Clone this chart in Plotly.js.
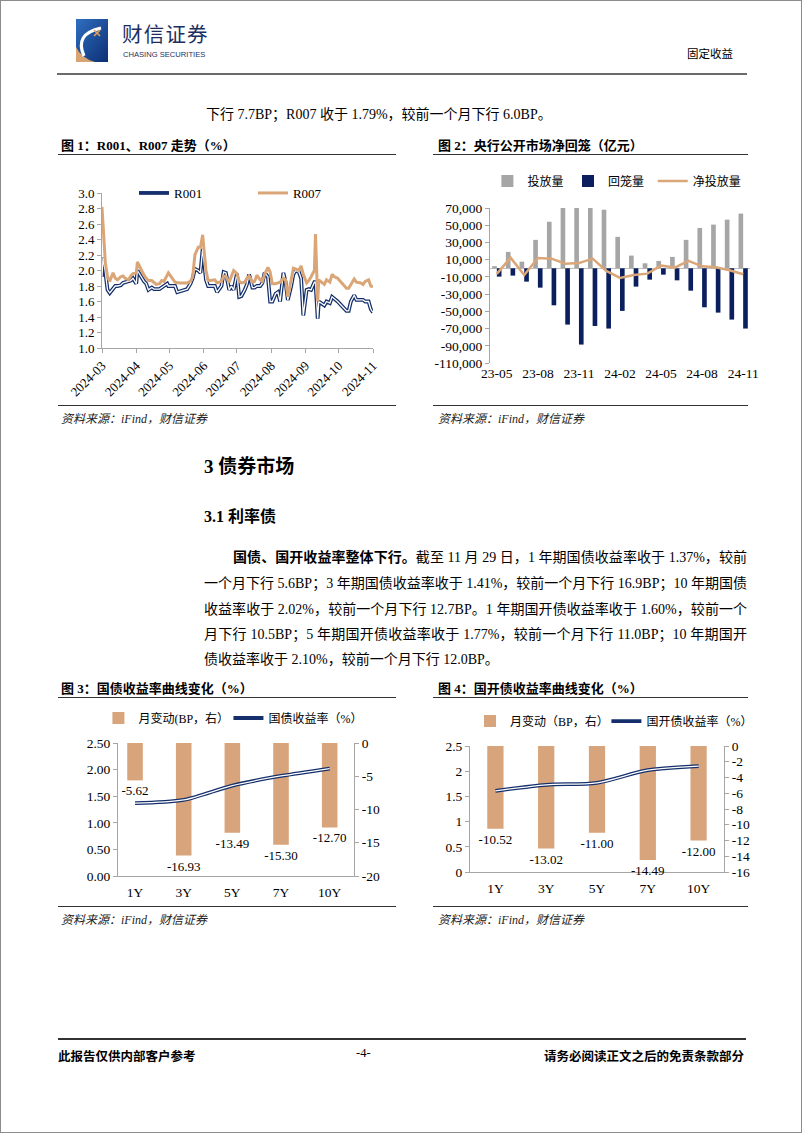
<!DOCTYPE html>
<html><head><meta charset="utf-8">
<script src="https://cdn.plot.ly/plotly-3.0.1.min.js"></script>
<style>
html,body{margin:0;padding:0;background:#fff;}
#page{position:relative;width:802px;height:1133px;box-sizing:border-box;border:1px solid #8c8c8c;overflow:hidden;font-family:"Liberation Serif","Noto Sans CJK SC",serif;color:#000;}
.abs{position:absolute;white-space:nowrap;}
.rule{position:absolute;height:0;border-top:1.5px solid #333;}
.ftitle{position:absolute;font-size:13px;font-weight:bold;white-space:nowrap;}
.src{position:absolute;font-size:12px;font-style:italic;white-space:nowrap;color:#222;}
.chart{position:absolute;}
.pl{position:absolute;left:203px;width:543px;font-size:14px;line-height:18px;text-align:justify;text-align-last:justify;white-space:nowrap;}
</style></head>
<body>
<div id="page">
  <svg class="abs" style="left:75px;top:18px" width="32" height="43" viewBox="0 0 32 43">
    <defs><linearGradient id="lg" x1="0" y1="0" x2="1" y2="1"><stop offset="0" stop-color="#2f6fc0"/><stop offset="1" stop-color="#0c2f74"/></linearGradient></defs>
    <rect x="0" y="0" width="32" height="43" fill="url(#lg)"/>
    <path d="M0 28 L0 43 L19 43 Q5 39 0 28 Z" fill="#d8a572"/>
    <path d="M8 37 Q-2 15 25 9" stroke="#fff" stroke-width="3.2" fill="none"/>
    <path d="M18 11 L24 17 M24 11 L18 17" stroke="#e2a15a" stroke-width="1.6"/>
  </svg>
  <div class="abs" style="left:121px;top:21px;font-family:'Noto Sans CJK SC';font-size:20.5px;line-height:22px;letter-spacing:1.2px;color:#1d2f5e;">财信证券</div>
  <div class="abs" style="left:122px;top:50px;font-family:'Liberation Sans';font-size:7.6px;line-height:8px;color:#1d2f5e;">CHASING SECURITIES</div>
  <div class="abs" style="left:686px;top:44px;font-family:'Noto Sans CJK SC';font-size:11.5px;">固定收益</div>
  <div class="rule" style="left:56px;top:72px;width:690px;border-top:2px solid #6a6a6a;"></div>

  <div class="abs" style="left:205px;top:102px;font-size:14px;">下行 7.7BP；R007 收于 1.79%，较前一个月下行 6.0BP。</div>

  <div class="ftitle" style="left:60px;top:134px;">图 1：R001、R007 走势（%）</div>
  <div class="rule" style="left:57px;top:153px;width:338px;"></div>
  <div class="ftitle" style="left:437px;top:134px;">图 2：央行公开市场净回笼（亿元）</div>
  <div class="rule" style="left:432px;top:153px;width:315px;"></div>

  <div id="c1" class="chart" style="left:60px;top:160px;width:340px;height:240px;"></div>
  <div id="c2" class="chart" style="left:420px;top:160px;width:340px;height:235px;"></div>

  <div class="rule" style="left:57px;top:404px;width:338px;border-top:1px solid #333;"></div>
  <div class="src" style="left:60px;top:408px;">资料来源：iFind，财信证券</div>
  <div class="rule" style="left:432px;top:404px;width:315px;border-top:1px solid #333;"></div>
  <div class="src" style="left:437px;top:408px;">资料来源：iFind，财信证券</div>

  <div class="abs" style="left:203px;top:450px;font-size:19px;font-weight:bold;">3 债券市场</div>
  <div class="abs" style="left:203px;top:502px;font-size:16px;font-weight:bold;">3.1 利率债</div>

  <div class="pl" style="top:548px;left:232px;width:514px;"><b>国债、国开收益率整体下行。</b>截至 11 月 29 日，1 年期国债收益率收于 1.37%，较前</div>
  <div class="pl" style="top:574px;">一个月下行 5.6BP；3 年期国债收益率收于 1.41%，较前一个月下行 16.9BP；10 年期国债</div>
  <div class="pl" style="top:600px;">收益率收于 2.02%，较前一个月下行 12.7BP。1 年期国开债收益率收于 1.60%，较前一个</div>
  <div class="pl" style="top:625px;">月下行 10.5BP；5 年期国开债收益率收于 1.77%，较前一个月下行 11.0BP；10 年期国开</div>
  <div class="pl" style="top:650px;text-align:left;text-align-last:left;">债收益率收于 2.10%，较前一个月下行 12.0BP。</div>

  <div class="ftitle" style="left:60px;top:677px;">图 3：国债收益率曲线变化（%）</div>
  <div class="rule" style="left:57px;top:696px;width:338px;"></div>
  <div class="ftitle" style="left:437px;top:677px;">图 4：国开债收益率曲线变化（%）</div>
  <div class="rule" style="left:432px;top:696px;width:315px;"></div>

  <div id="c3" class="chart" style="left:60px;top:700px;width:340px;height:200px;"></div>
  <div id="c4" class="chart" style="left:420px;top:700px;width:340px;height:200px;"></div>

  <div class="rule" style="left:57px;top:905px;width:338px;border-top:1px solid #333;"></div>
  <div class="src" style="left:60px;top:909px;">资料来源：iFind，财信证券</div>
  <div class="rule" style="left:432px;top:905px;width:315px;border-top:1px solid #333;"></div>
  <div class="src" style="left:437px;top:909px;">资料来源：iFind，财信证券</div>

  <div class="rule" style="left:57px;top:1037px;width:688px;border-top:2px solid #333;"></div>
  <div class="abs" style="left:57px;top:1045px;font-size:12.5px;font-weight:bold;">此报告仅供内部客户参考</div>
  <div class="abs" style="left:355px;top:1045px;font-size:12.5px;">-4-</div>
  <div class="abs" style="right:57px;top:1045px;font-size:12.5px;font-weight:bold;">请务必阅读正文之后的免责条款部分</div>
</div>

<script>
// ---------- Figure 1: R001 / R007 (%) ----------
const r1Dates = ['2024-03-01','2024-03-02','2024-03-04','2024-03-06','2024-03-08','2024-03-11','2024-03-13','2024-03-15','2024-03-18','2024-03-20','2024-03-22','2024-03-25','2024-03-27','2024-03-29',
 '2024-04-01','2024-04-02','2024-04-05','2024-04-08','2024-04-10','2024-04-12','2024-04-15','2024-04-17','2024-04-19','2024-04-22','2024-04-24','2024-04-26','2024-04-29','2024-04-30',
 '2024-05-06','2024-05-08','2024-05-10','2024-05-13','2024-05-15','2024-05-17','2024-05-20','2024-05-22','2024-05-24','2024-05-27','2024-05-29','2024-05-31',
 '2024-06-03','2024-06-05','2024-06-07','2024-06-11','2024-06-13','2024-06-17','2024-06-19','2024-06-21','2024-06-24','2024-06-26','2024-06-28',
 '2024-07-01','2024-07-03','2024-07-05','2024-07-08','2024-07-10','2024-07-12','2024-07-15','2024-07-17','2024-07-19','2024-07-22','2024-07-24','2024-07-26','2024-07-29','2024-07-31',
 '2024-08-02','2024-08-05','2024-08-07','2024-08-09','2024-08-12','2024-08-14','2024-08-16','2024-08-19','2024-08-21','2024-08-23','2024-08-26','2024-08-28','2024-08-30',
 '2024-09-02','2024-09-04','2024-09-06','2024-09-09','2024-09-10','2024-09-12','2024-09-13','2024-09-18','2024-09-20','2024-09-23','2024-09-25','2024-09-27','2024-09-30',
 '2024-10-08','2024-10-10','2024-10-12','2024-10-15','2024-10-17','2024-10-21','2024-10-23','2024-10-25','2024-10-28','2024-10-30','2024-11-01'];
const r001 = [1.92,2.17,1.98,1.75,1.71,1.76,1.80,1.80,1.81,1.84,1.85,1.86,1.87,1.90,
 1.83,2.00,1.92,1.86,1.83,1.75,1.78,1.76,1.76,1.76,1.78,1.80,1.83,1.80,
 1.80,1.72,1.73,1.74,1.76,1.76,1.83,1.90,2.02,2.00,1.97,2.28,
 1.88,1.80,1.80,1.80,1.72,1.80,1.98,1.97,1.75,1.80,1.75,
 1.96,1.66,1.67,1.75,1.82,1.95,1.78,1.78,1.80,1.80,1.84,1.97,1.92,1.60,
 1.60,1.70,1.72,1.60,1.97,1.85,1.62,1.80,1.95,2.00,1.98,1.90,1.42,
 1.75,1.76,1.75,1.85,1.85,1.38,1.60,1.55,1.60,1.58,1.66,1.64,1.60,
 1.48,1.48,1.60,1.68,1.62,1.62,1.62,1.60,1.60,1.50,1.46];
const r007 = [2.82,2.60,2.10,1.92,1.86,1.97,1.90,1.88,1.92,1.93,1.90,1.88,1.93,1.96,
 1.97,2.11,2.02,1.94,1.90,1.87,1.87,1.84,1.82,1.83,1.87,1.86,1.93,1.97,
 1.85,1.84,1.84,1.84,1.84,1.84,1.86,1.92,2.20,2.30,2.30,2.46,
 2.00,1.87,1.87,1.88,1.84,1.86,1.93,1.92,1.85,1.92,2.00,
 1.96,1.86,1.84,1.85,1.90,1.93,1.85,1.86,1.94,1.88,1.86,1.95,2.04,1.98,
 1.83,1.83,1.84,1.85,1.90,1.88,1.66,1.88,2.03,2.02,2.00,2.06,1.95,
 1.84,1.87,1.92,2.00,2.47,1.60,1.88,1.82,1.88,1.85,1.95,1.92,1.90,
 1.77,1.77,1.82,1.89,1.85,1.84,1.82,1.86,1.88,1.80,1.79];

// ---------- Figure 2: PBoC open market (100m CNY) ----------
const omoMonths = ['23-05','23-06','23-07','23-08','23-09','23-10','23-11','23-12','24-01','24-02','24-03','24-04','24-05','24-06','24-07','24-08','24-09','24-10','24-11'];
const omoTickLabels = ['23-05','23-08','23-11','24-02','24-05','24-08','24-11'];
const omoInject = [2500,19000,7700,33000,54000,70000,71000,71000,68000,36500,14700,5800,8500,13200,33000,46800,50700,56500,63500];
const omoWithdraw = [-9700,-8500,-15500,-22500,-43000,-65400,-88600,-67000,-70000,-49500,-21300,-13200,-7400,-14000,-26000,-45300,-51500,-59600,-70000];
const omoNet = [-6500,12400,-7700,12000,11200,5400,6000,11200,-3000,-11200,-7700,-6200,3100,800,8500,2300,1200,-2300,-7000];
const omoYTicks = [70000,50000,30000,10000,-10000,-30000,-50000,-70000,-90000,-110000];
const omoYTickText = ['70,000','50,000','30,000','10,000','-10,000','-30,000','-50,000','-70,000','-90,000','-110,000'];

// ---------- Figure 3 / 4: yield curves ----------
const tenors = ['1Y','3Y','5Y','7Y','10Y'];
const gzChange = [-5.62,-16.93,-13.49,-15.30,-12.70];
const gzYield = [1.37,1.43,1.70,1.88,2.02];
const kgChange = [-10.52,-13.02,-11.00,-14.49,-12.00];
const kgYield = [1.61,1.73,1.77,2.02,2.10];
const gzRightTicks = [0,-5,-10,-15,-20];
const gzRightText = ['0','-5','-10','-15','-20'];
const kgRightTicks = [0,-2,-4,-6,-8,-10,-12,-14,-16];
const kgRightText = ['0','-2','-4','-6','-8','-10','-12','-14','-16'];

const FONT = 'Liberation Serif, Noto Sans CJK SC';
const AX = '#A6A6A6';
const NAVY = '#142F6B';
const TAN = '#DBA677';
const cfg = {displayModeBar:false, staticPlot:true};
function leg(x, y, size) {
  return {x:x, y:y, xanchor:'left', yanchor:'middle', orientation:'h', bgcolor:'rgba(0,0,0,0)', font:{size:size}};
}

// Figure 1
Plotly.newPlot('c1', [
  {x:r1Dates, y:r001, type:'scatter', mode:'lines', name:'R001', line:{color:NAVY, width:3.8}, legend:'legend'},
  {x:r1Dates, y:r001, type:'scatter', mode:'lines', name:'R001', showlegend:false, line:{color:'#ffffff', width:1.3}},
  {x:r1Dates, y:r007, type:'scatter', mode:'lines', name:'R007', line:{color:TAN, width:3}, legend:'legend2'}
], {
  width:340, height:240, margin:{l:41, r:28, t:32, b:53, autoexpand:false},
  paper_bgcolor:'rgba(0,0,0,0)', plot_bgcolor:'rgba(0,0,0,0)',
  font:{family:FONT, size:13, color:'#000'},
  xaxis:{type:'date', range:['2024-03-01','2024-11-01'], tick0:'2024-03-01', dtick:'M1', tickformat:'%Y-%m', tickangle:-45,
         showline:true, linecolor:AX, ticks:'outside', ticklen:4, tickcolor:AX, showgrid:false, zeroline:false},
  yaxis:{range:[1,3], dtick:0.2, tickformat:'.1f', showline:true, linecolor:AX, ticks:'outside', ticklen:4, tickcolor:AX,
         showgrid:false, zeroline:false},
  legend:leg(0.118, 1, 13),
  legend2:leg(0.557, 1, 13),
  showlegend:true
}, cfg);

// Figure 2
Plotly.newPlot('c2', [
  {x:omoMonths, y:omoInject, type:'bar', name:'投放量', marker:{color:'#A6A6A6'}, legend:'legend'},
  {x:omoMonths, y:omoWithdraw, type:'bar', name:'回笼量', marker:{color:'#0B1F5E'}, legend:'legend2'},
  {x:omoMonths, y:omoNet, type:'scatter', mode:'lines', name:'净投放量', line:{color:TAN, width:2.5}, legend:'legend3'}
], {
  width:340, height:235, margin:{l:69, r:11, t:47, b:33, autoexpand:false},
  paper_bgcolor:'rgba(0,0,0,0)', plot_bgcolor:'rgba(0,0,0,0)',
  font:{family:FONT, size:13.5, color:'#000'},
  barmode:'group', bargap:0.32, bargroupgap:0,
  xaxis:{type:'category', tickvals:omoTickLabels, ticktext:omoTickLabels, showline:false, ticks:'', showgrid:false, zeroline:false},
  yaxis:{range:[-110000,70000], tickvals:omoYTicks, ticktext:omoYTickText, showline:true, linecolor:AX, ticks:'outside', ticklen:4, tickcolor:AX,
         showgrid:false, zeroline:true, zerolinecolor:'#BFBFBF', zerolinewidth:1},
  legend:leg(-0.01, 1.174, 12),
  legend2:leg(0.300, 1.174, 12),
  legend3:leg(0.626, 1.174, 12),
  showlegend:true
}, cfg);

function curveChart(id, change, yields, barName, lineName, rTicks, rText, rRange, lTickFmt, xRange, legX1, legX2, legY, margin) {
  Plotly.newPlot(id, [
    {x:tenors, y:change, type:'bar', name:barName, marker:{color:'#D8A47B'}, yaxis:'y', legend:'legend',
     text:change.map(v => v.toFixed(2)), textposition:'outside', constraintext:'none', cliponaxis:false,
     textfont:{family:FONT, size:13, color:'#000'}},
    {x:tenors, y:yields, type:'scatter', mode:'lines', name:lineName, yaxis:'y2', legend:'legend2', line:{color:NAVY, width:3.8, shape:'spline', smoothing:0.8}},
    {x:tenors, y:yields, type:'scatter', mode:'lines', name:lineName, showlegend:false, yaxis:'y2', line:{color:'#ffffff', width:1.3, shape:'spline', smoothing:0.8}}
  ], {
    width:340, height:200, margin:Object.assign({autoexpand:false}, margin),
    paper_bgcolor:'rgba(0,0,0,0)', plot_bgcolor:'rgba(0,0,0,0)',
    font:{family:FONT, size:13.5, color:'#000'},
    bargap:0.68,
    xaxis:{type:'category', range:xRange, showline:true, linecolor:AX, ticks:'', showgrid:false, zeroline:false, ticklabelstandoff:4, layer:'below traces'},
    yaxis:{range:rRange, side:'right', tickvals:rTicks, ticktext:rText, showline:true, linecolor:AX, ticks:'outside', ticklen:4, tickcolor:AX,
           showgrid:false, zeroline:false, layer:'below traces'},
    yaxis2:{range:[0,2.5], dtick:0.5, tickformat:lTickFmt, side:'left', overlaying:'y', showline:true, linecolor:AX, ticks:'outside', ticklen:4, tickcolor:AX,
            showgrid:false, zeroline:false},
    legend:leg(legX1, legY, 12),
    legend2:leg(legX2, legY, 12),
    showlegend:true
  }, cfg);
}

curveChart('c3', gzChange, gzYield, '月变动(BP，右）', '国债收益率（%）', gzRightTicks, gzRightText, [-20,0], '.2f', [-0.35,4.5], -0.083, 0.468, 1.188, {l:57, r:47, t:42, b:25});
curveChart('c4', kgChange, kgYield, '月变动（BP，右）', '国开债收益率（%）', kgRightTicks, kgRightText, [-16,0], '', [-0.5,4.5], 0.0, 0.537, 1.198, {l:49, r:37, t:45, b:29});
</script>
</body></html>
